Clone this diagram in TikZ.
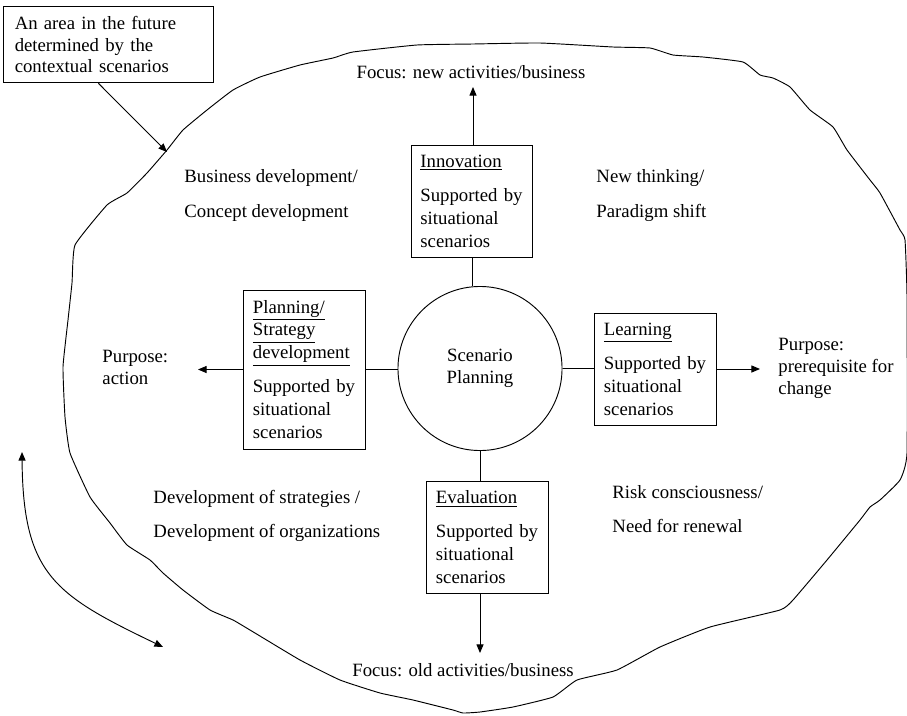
\documentclass[tikz,border=0pt]{standalone}
\usepackage{fontspec}
\setmainfont{Liberation Serif}
\usetikzlibrary{arrows.meta}

\tikzset{
  arr/.style={-{Triangle[length=5.5pt,width=4.5pt]}},
  twoarr/.style={{Triangle[length=5.5pt,width=4.5pt]}-{Triangle[length=5.5pt,width=4.5pt]}},
  rolebox/.style={draw, text width=66pt, inner xsep=6pt, minimum height=#1,
    align=left, font=\fontsize{12}{14.7}\selectfont},
  rolebox/.default=71.7pt,
  lbl/.style={inner sep=0pt, align=left, anchor=west},
}

\begin{document}
\begin{tikzpicture}[x=0.64pt, y=-0.64pt, line width=0.6pt, font=\fontsize{12}{14}\selectfont]
  \useasboundingbox (0,0) rectangle (907,715);

  % the area in the future
  \draw plot[smooth cycle, tension=0.25] coordinates {
    (65,417) (63,367) (68,320) (72,283) (75,245) (107,205) (127,193) (147,173)
    (167,150) (183,130) (207,110) (233,90) (260,77) (300,65) (333,58) (353,52)
    (417,45) (473,44) (540,43) (613,47) (650,48) (673,55) (703,57) (743,62)
    (760,75) (773,78) (790,87) (810,110) (833,127) (847,150) (870,180) (880,193)
    (900,230) (905,240) (907,297) (907,453) (900,480) (880,500) (870,507)
    (860,520) (827,560) (793,600) (780,610) (710,627) (660,647) (617,670)
    (577,680) (553,697) (513,707) (480,712) (463,713) (453,710) (413,700)
    (380,693) (340,680) (300,660) (250,630) (233,620) (210,610) (183,590)
    (163,573) (150,560) (127,545) (110,523) (90,497) (70,453)};

  \node[draw, text width=120pt, inner xsep=7pt, minimum height=49pt, align=left]
    (area) at (108.5,44.5) {An area in the future\\determined by the\\contextual scenarios};
  \coordinate (areatip) at (167,152);
  \draw[arr] ([xshift=-6.5pt]area.south) -- (areatip);

  % centre and the four roles
  \node[draw, circle, minimum size=105pt, inner sep=0pt, align=center]
    (sp) at (480,368.5) {Scenario\\Planning};

  \node[rolebox] (innov) at (472,201)
    {\underline{Innovation}\\[7pt]Supported by\\situational\\scenarios};
  \node[rolebox=101.8pt] (plan) at (304.5,369.5)
    {\underline{Planning/}\\\underline{Strategy}\\\underline{development}\\[7pt]Supported by\\situational\\scenarios};
  \node[rolebox] (learn) at (655.5,369)
    {\underline{Learning}\\[7pt]Supported by\\situational\\scenarios};
  \node[rolebox] (evalb) at (487.5,537)
    {\underline{Evaluation}\\[7pt]Supported by\\situational\\scenarios};

  \draw (innov.south) -- (innov.south |- sp.north);
  \draw (plan.east) -- (plan.east -| sp.west);
  \draw (sp.east) -- (sp.east -| learn.west);
  \draw (sp.south) -- (sp.south |- evalb.north);

  % focus and purpose
  \node (focusnew) at (471,72) {Focus: new activities/business};
  \node (focusold) at (463,670) {Focus: old activities/business};
  \node[lbl] (action) at (102,367.5) {Purpose:\\action};
  \node[lbl] (prereq) at (778,368.5) {Purpose:\\prerequisite for\\change};

  \coordinate (newtip) at (473,87);
  \coordinate (oldtip) at (480,653);
  \coordinate (actiontip) at (198,369.5);
  \coordinate (prereqtip) at (760,369);
  \draw[arr] (innov.north -| newtip) -- (newtip);
  \draw[arr] (evalb.south -| oldtip) -- (oldtip);
  \draw[arr] (plan.west) -- (actiontip);
  \draw[arr] (learn.east) -- (prereqtip);

  % quadrant texts
  \node[lbl] (bizdev) at (184,195.5) {Business development/\\[7.8pt]Concept development};
  \node[lbl] (newthink) at (596,195.5) {New thinking/\\[7.8pt]Paradigm shift};
  \node[lbl] (devstrat) at (153,516) {Development of strategies /\\[7.8pt]Development of organizations};
  \node[lbl] (risk) at (612,509.5) {Risk consciousness/\\[7.8pt]Need for renewal};

  % moving around
  \coordinate (loopa) at (22,452);
  \coordinate (loopb) at (163,647);
  \draw[twoarr] (loopa) .. controls (23,575) and (55,595) .. (loopb);
\end{tikzpicture}
\end{document}
